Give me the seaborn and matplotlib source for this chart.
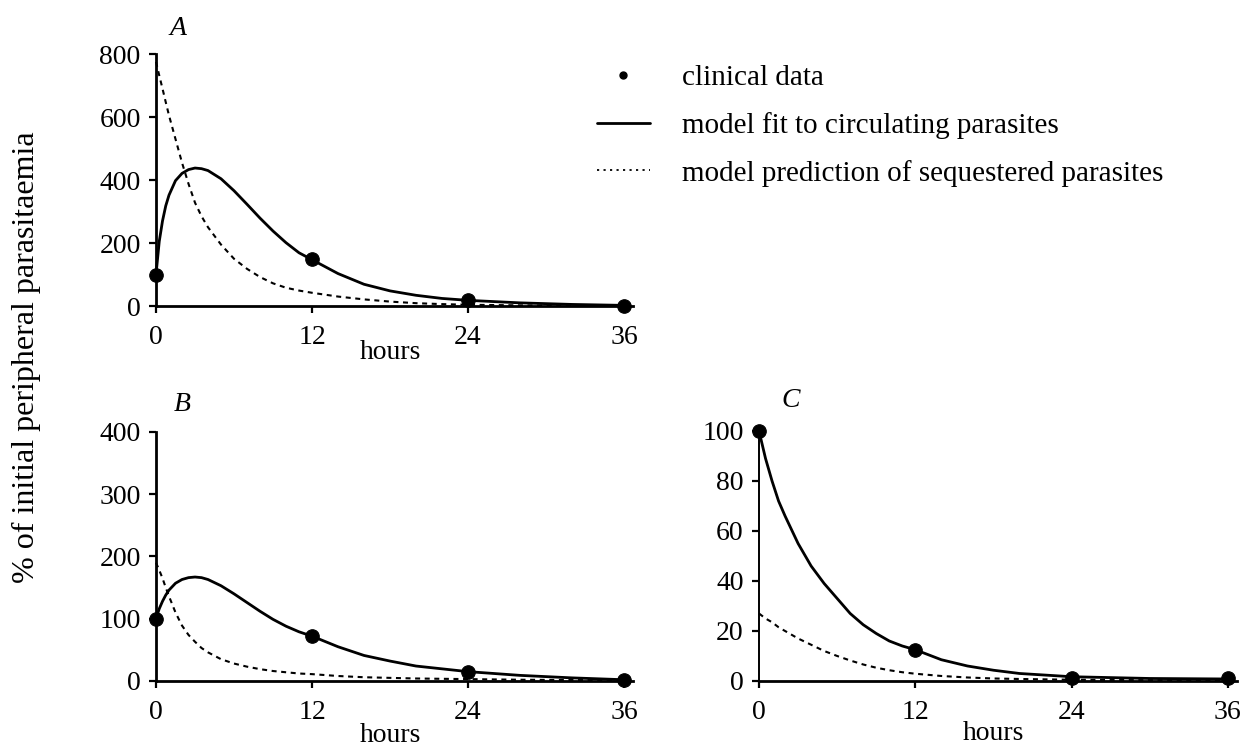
#!/usr/bin/env python3

import matplotlib

matplotlib.use("Agg")
import matplotlib.pyplot as plt
import matplotlib.transforms as mtransforms
from matplotlib.lines import Line2D
import pandas
import seaborn as sns

# Values (hours, % of initial parasitaemia)
hours_a = [0, 0.25, 0.5, 0.75, 1, 1.5, 2, 2.5, 3, 3.5, 4, 5, 6, 7, 8, 9, 10, 11, 12,
           14, 16, 18, 20, 22, 24, 28, 32, 36]
fit_a = [100, 205, 270, 318, 352, 398, 421, 433, 438, 436, 430, 404, 366, 323, 279,
         238, 201, 169, 147, 103, 69, 48, 34, 24, 18, 10, 5, 2]
seq_a = [775, 732, 690, 647, 605, 530, 455, 388, 328, 285, 250, 195, 150, 118, 92,
         72, 58, 49, 42, 30, 21, 14, 9, 6, 4, 2, 1, 0]

hours_b = [0, 0.25, 0.5, 0.75, 1, 1.5, 2, 2.5, 3, 3.5, 4, 5, 6, 7, 8, 9, 10, 11, 12,
           14, 16, 18, 20, 24, 28, 32, 36]
fit_b = [100, 116, 128, 138, 146, 157, 163, 166, 167, 166, 163, 153, 140, 126, 112,
         99, 88, 79, 72, 55, 41, 32, 24, 15, 9, 5, 2]
seq_b = [190, 178, 165, 150, 136, 110, 89, 74, 63, 53, 46, 35, 28, 23, 19,
         16, 14, 12, 11, 8, 6, 5, 4, 3, 2, 1.5, 1]

hours_c = [0, 0.5, 1, 1.5, 2, 3, 4, 5, 6, 7, 8, 9, 10, 11, 12, 14, 16, 18, 20, 24, 30, 36]
fit_c = [100, 89, 80, 72, 66, 55, 46, 39, 33, 27, 22.5, 19, 16, 14, 12.5,
         8.5, 6, 4.3, 3, 1.7, 1, 0.8]
seq_c = [27, 25, 23.5, 21.5, 20, 17, 14.5, 12, 10, 8.2, 6.6, 5.3, 4.3, 3.5, 2.9,
         2, 1.4, 1, 0.8, 0.5, 0.3, 0.2]

clinical_hours = [0, 12, 24, 36]
clinical_a = [100, 150, 18, 1]
clinical_b = [100, 72, 15, 1]
clinical_c = [100, 12.5, 1, 1]

yticks_a = [0, 200, 400, 600, 800]
yticks_b = [0, 100, 200, 300, 400]
yticks_c = [0, 20, 40, 60, 80, 100]
xticks = [0, 12, 24, 36]

SERIF = ["Liberation Serif", "DejaVu Serif"]


def draw_panel(ax, hours, fit, seq, clinical, yticks, letter, letter_pos, hours_y):
    """
    One panel: fitted curve, predicted sequestered curve and clinical points.
    """
    curves = pandas.DataFrame({"hours": hours, "fit": fit, "seq": seq})
    points = pandas.DataFrame({"hours": clinical_hours, "value": clinical})

    sns.lineplot(data=curves, x="hours", y="seq", ax=ax, color="black",
                 linewidth=1.5, linestyle=(0, (2.4, 2.2)), clip_on=False)
    sns.lineplot(data=curves, x="hours", y="fit", ax=ax, color="black",
                 linewidth=2.0, clip_on=False)
    sns.scatterplot(data=points, x="hours", y="value", ax=ax, color="black",
                    s=95, edgecolor="black", zorder=5, clip_on=False)

    ax.set_xlim(0, 36.7)
    ax.set_ylim(0, yticks[-1])
    ax.set_xticks(xticks)
    ax.set_yticks(yticks)
    ax.set_xlabel("")
    ax.set_ylabel("")
    sns.despine(ax=ax)
    for side in ("left", "bottom"):
        ax.spines[side].set_linewidth(2.0)
        ax.spines[side].set_color("black")
    ax.tick_params(axis="both", direction="out", length=5, width=1.6,
                   labelsize=20, color="black", labelcolor="black",
                   bottom=True, left=True)
    ax.tick_params(axis="x", pad=9)
    ax.tick_params(axis="y", pad=6)
    for lab in ax.get_xticklabels() + ax.get_yticklabels():
        lab.set_family(SERIF)

    trans = mtransforms.blended_transform_factory(ax.transData, ax.transAxes)
    ax.text(letter_pos[0], letter_pos[1], letter, transform=trans, fontsize=20,
            family=SERIF, style="italic", ha="center", va="center", color="black")
    ax.text(18, hours_y, "hours", transform=trans, fontsize=20,
            family=SERIF, ha="center", va="center", color="black")


def main():
    sns.set_style("white", {"text.color": "black", "axes.labelcolor": "black",
                            "xtick.color": "black", "ytick.color": "black"})
    plt.rcParams["font.family"] = SERIF
    fig = plt.figure(figsize=(12.49, 7.48), dpi=100)

    ax_a = fig.add_axes([0.1249, 0.5909, 0.3820, 0.3369])
    ax_b = fig.add_axes([0.1249, 0.0896, 0.3820, 0.3329])
    ax_c = fig.add_axes([0.6077, 0.0896, 0.3827, 0.3342])

    draw_panel(ax_a, hours_a, fit_a, seq_a, clinical_a, yticks_a, "A", (1.7, 1.10), -0.185)
    draw_panel(ax_b, hours_b, fit_b, seq_b, clinical_b, yticks_b, "B", (2.0, 1.11), -0.22)
    draw_panel(ax_c, hours_c, fit_c, seq_c, clinical_c, yticks_c, "C", (2.4, 1.12), -0.21)
    ax_c.spines["left"].set_linewidth(1.4)

    handles = [
        Line2D([], [], color="black", marker="o", markersize=5, linestyle="none"),
        Line2D([], [], color="black", linewidth=2.0),
        Line2D([], [], color="black", linewidth=1.3, linestyle=(0, (1.2, 2.4))),
    ]
    labels = [
        "clinical data",
        "model fit to circulating parasites",
        "model prediction of sequestered parasites",
    ]
    fig.legend(handles, labels, loc="upper left", bbox_to_anchor=(0.478, 0.914),
               frameon=False, fontsize=21, handlelength=1.8, handletextpad=1.1,
               labelspacing=0.72, borderpad=0, borderaxespad=0, labelcolor="black")

    fig.text(0.021, 0.523, "% of initial peripheral parasitaemia", rotation=90,
             ha="center", va="center", fontsize=23, family=SERIF, color="black")

    fig.savefig("out.png", dpi=100)


if __name__ == "__main__":
    main()
